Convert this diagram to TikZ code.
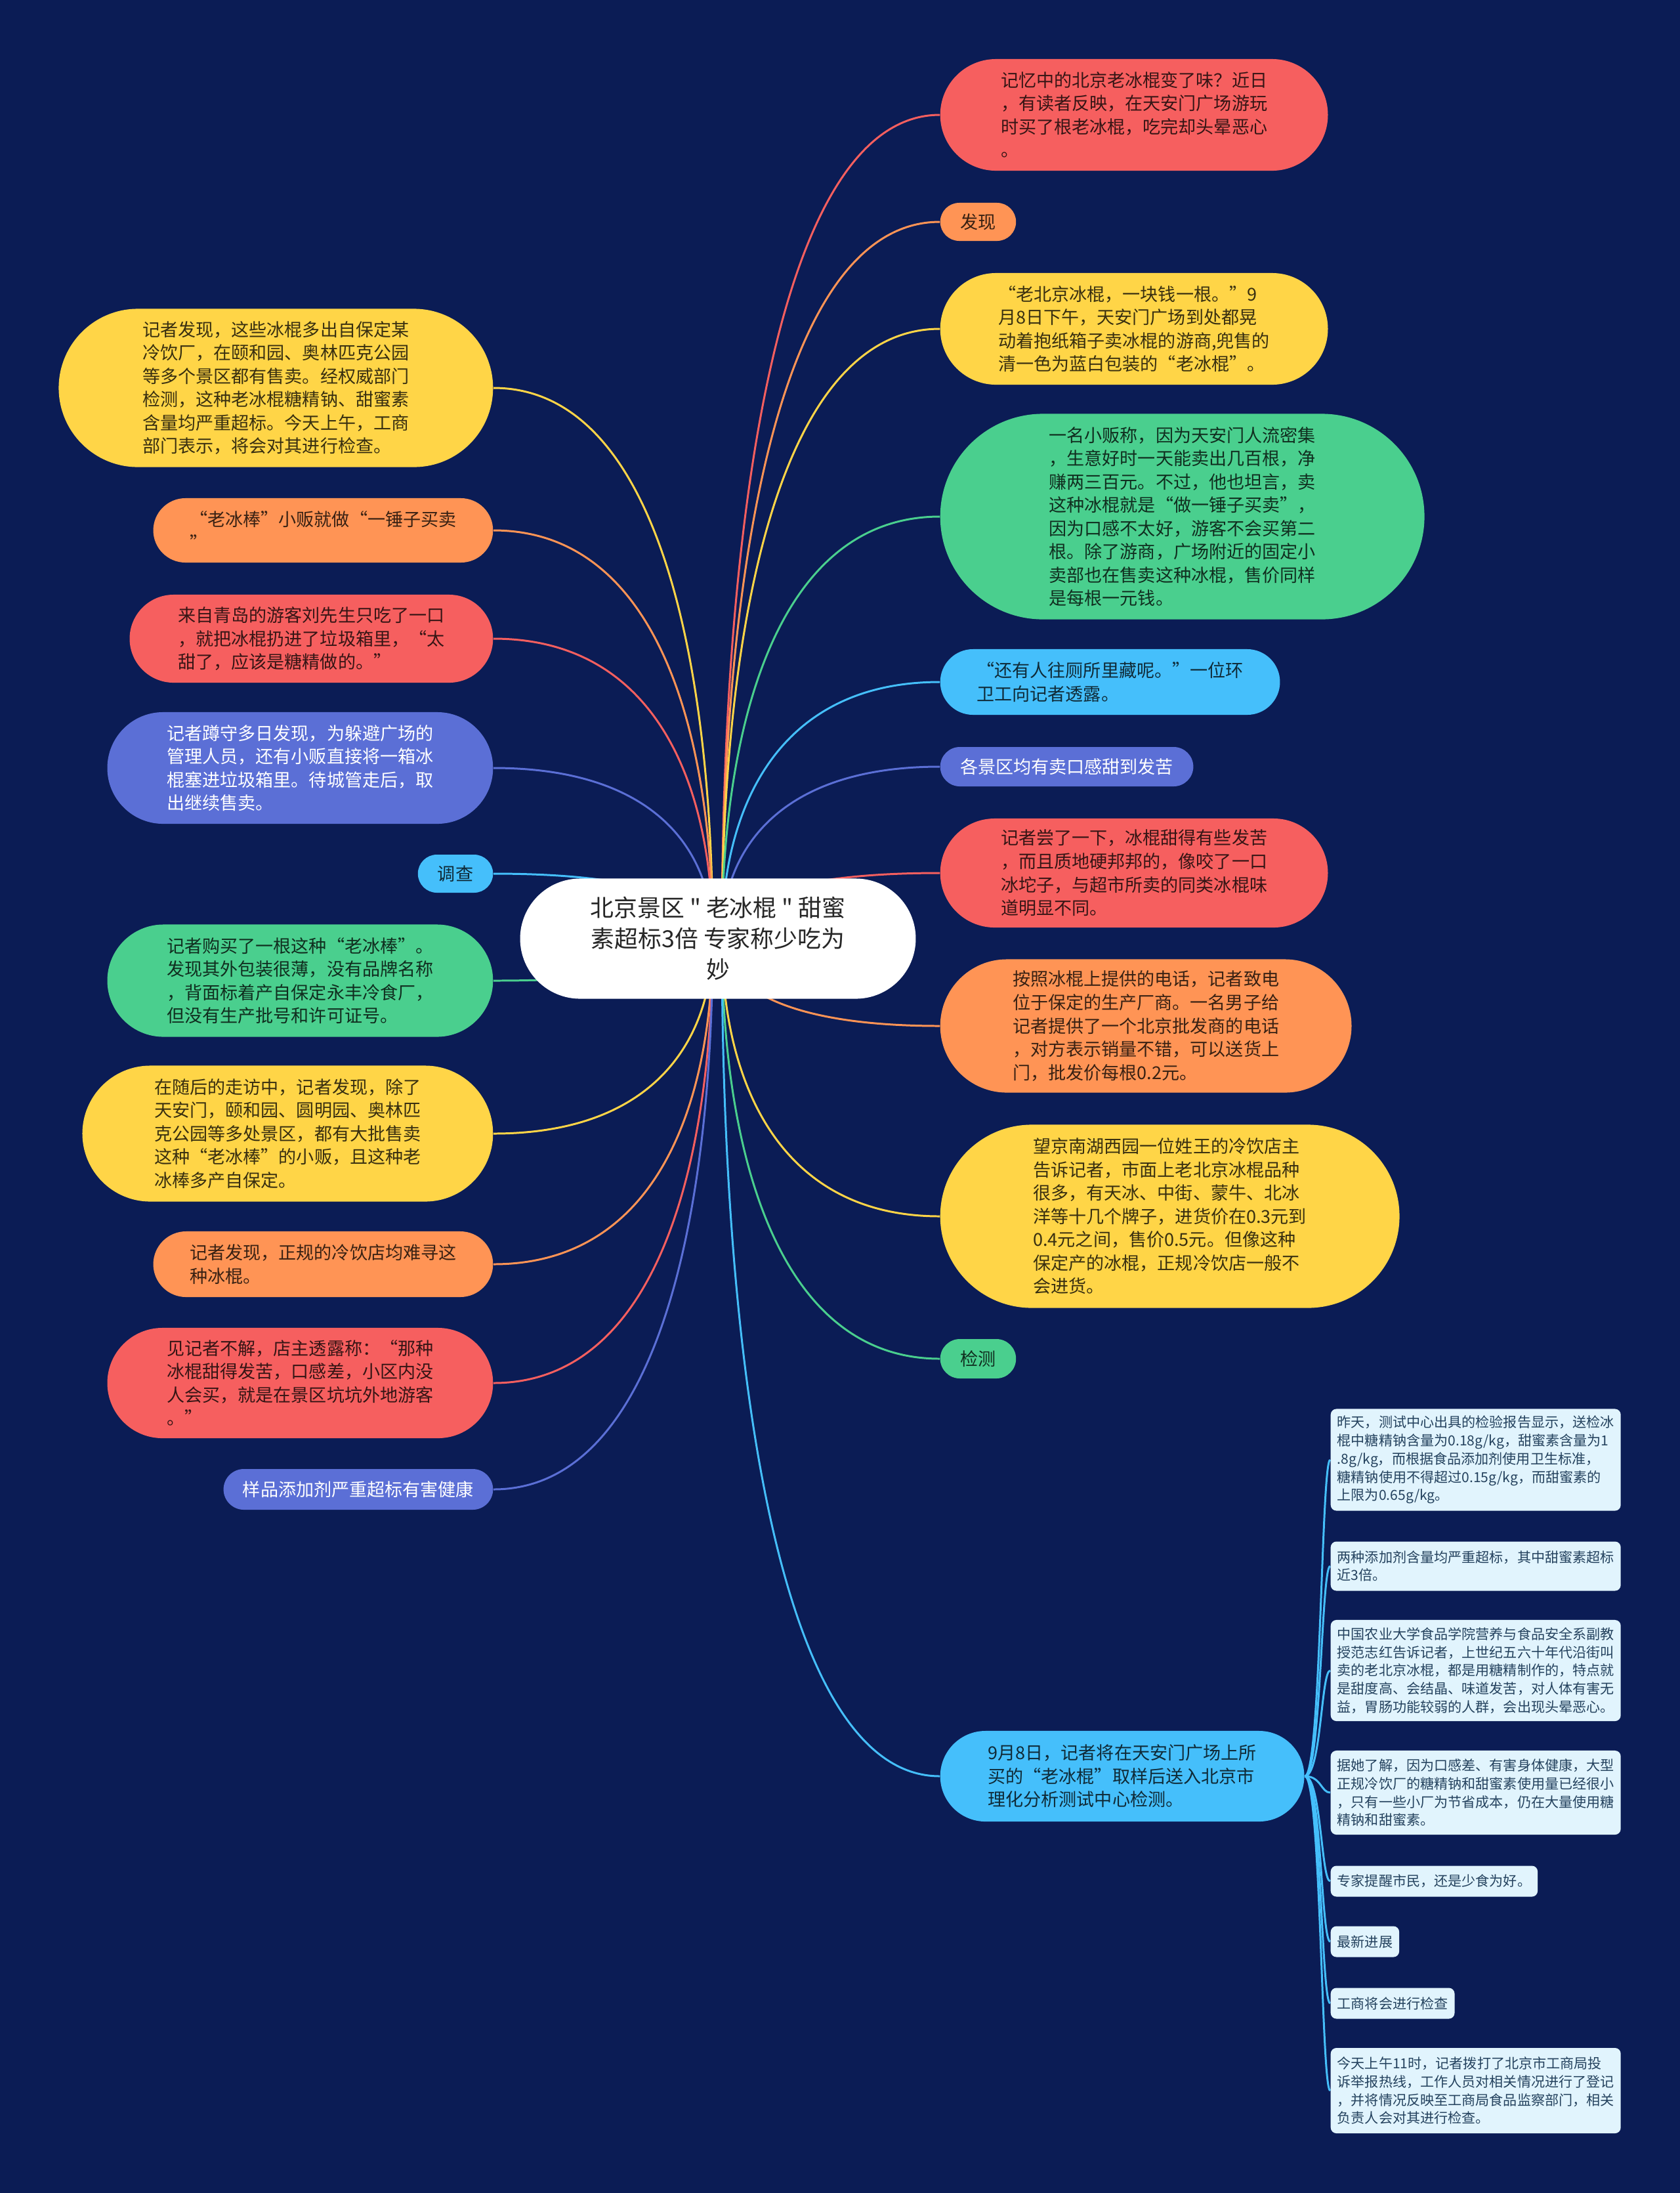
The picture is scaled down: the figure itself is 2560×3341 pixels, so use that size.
\documentclass[tikz,border=0pt]{standalone}
\usepackage{fontspec}
\newfontfamily\cjk{Noto Sans CJK SC}
\usetikzlibrary{shapes.misc, calc, backgrounds}

\definecolor{cbg}{HTML}{0B1C55}
\definecolor{cred}{HTML}{F65F5F}
\definecolor{corange}{HTML}{FF9455}
\definecolor{cyellow}{HTML}{FFD547}
\definecolor{cgreen}{HTML}{4ACF8E}
\definecolor{ccyan}{HTML}{45BFFB}
\definecolor{cblue}{HTML}{5B6FD6}
\definecolor{csub}{HTML}{E1F4FD}
\definecolor{csubtext}{HTML}{24425E}

\newcommand\bodyfont{\cjk\fontsize{7.7}{10.1}\selectfont}
\newcommand\leaffont{\cjk\fontsize{6}{7.9}\selectfont}
\newcommand\rootfont{\cjk\fontsize{10.2}{13.4}\selectfont}

\newcommand\spoke[3]{\draw[branchline, #1] (#2) .. controls ($(#2)!0.5!(#2|-#3)$) and ($(#2|-#3)!0.25!(#3)$) .. (#3);}
\newcommand\twig[1]{\draw[branchline, ccyan] (r11.east) .. controls (trunk|-r11.east) and (trunk|-#1) .. (#1);}

\begin{document}
\begin{tikzpicture}[x=0.01cm, y=-0.01cm,
  every node/.style={align=left},
  dims/.style 2 args={minimum width=#1cm+0.1cm, minimum height=#2cm},
  pill/.style={rounded rectangle, inner xsep=1.5pt, inner ysep=0pt, font=\bodyfont},
  redpill/.style={pill, fill=cred, text=cred!22!black},
  orangepill/.style={pill, fill=corange, text=corange!22!black},
  yellowpill/.style={pill, fill=cyellow, text=cyellow!22!black},
  greenpill/.style={pill, fill=cgreen, text=cgreen!22!black},
  cyanpill/.style={pill, fill=ccyan, text=ccyan!22!black},
  bluepill/.style={pill, fill=cblue, text=white},
  leaf/.style={rectangle, rounded corners=2.5pt, fill=csub, text=csubtext, font=\leaffont, inner xsep=0.1cm, inner ysep=0pt, anchor=west},
  branchline/.style={line width=0.85pt}]
\useasboundingbox (0,0) rectangle (2560,3341);

\node[rounded rectangle, fill=white, text=black!85, font=\rootfont, align=center, dims={6.16}{1.83}] (root) at (1094,1430)
  {北京景区 " 老冰棍 " 甜蜜\\素超标3倍 专家称少吃为\\妙};
\coordinate (hubr) at ([xshift=0.06cm]root.center);
\coordinate (hubl) at ([xshift=-0.08cm]root.center);

\node[redpill, anchor=west, dims={5.91}{1.70}] (r1) at (1432,175)
  {记忆中的北京老冰棍变了味？近日\\，有读者反映，在天安门广场游玩\\时买了根老冰棍，吃完却头晕恶心\\。};
\node[orangepill, anchor=west, dims={1.16}{0.58}] (r2) at (1432,338) {发现};
\node[yellowpill, anchor=west, dims={5.91}{1.70}] (r3) at (1432,501)
  {“老北京冰棍，一块钱一根。”9\\月8日下午，天安门广场到处都晃\\动着抱纸箱子卖冰棍的游商,兜售的\\清一色为蓝白包装的“老冰棍”。};
\node[greenpill, anchor=west, dims={7.38}{3.13}] (r4) at (1432,787)
  {一名小贩称，因为天安门人流密集\\，生意好时一天能卖出几百根，净\\赚两三百元。不过，他也坦言，卖\\这种冰棍就是“做一锤子买卖”，\\因为口感不太好，游客不会买第二\\根。除了游商，广场附近的固定小\\卖部也在售卖这种冰棍，售价同样\\是每根一元钱。};
\node[cyanpill, anchor=west, dims={5.18}{1.00}] (r5) at (1432,1039)
  {“还有人往厕所里藏呢。”一位环\\卫工向记者透露。};
\node[bluepill, anchor=west, dims={3.86}{0.60}] (r6) at (1432,1168) {各景区均有卖口感甜到发苦};
\node[redpill, anchor=west, dims={5.91}{1.66}] (r7) at (1432,1330)
  {记者尝了一下，冰棍甜得有些发苦\\，而且质地硬邦邦的，像咬了一口\\冰坨子，与超市所卖的同类冰棍味\\道明显不同。};
\node[orangepill, anchor=west, dims={6.27}{2.03}] (r8) at (1432,1563)
  {按照冰棍上提供的电话，记者致电\\位于保定的生产厂商。一名男子给\\记者提供了一个北京批发商的电话\\，对方表示销量不错，可以送货上\\门，批发价每根0.2元。};
\node[yellowpill, anchor=west, dims={7.00}{2.79}] (r9) at (1432,1853)
  {望京南湖西园一位姓王的冷饮店主\\告诉记者，市面上老北京冰棍品种\\很多，有天冰、中街、蒙牛、北冰\\洋等十几个牌子，进货价在0.3元到\\0.4元之间，售价0.5元。但像这种\\保定产的冰棍，正规冷饮店一般不\\会进货。};
\node[greenpill, anchor=west, dims={1.16}{0.60}] (r10) at (1432,2070) {检测};
\node[cyanpill, anchor=west, dims={5.55}{1.38}] (r11) at (1432,2706)
  {9月8日，记者将在天安门广场上所\\买的“老冰棍”取样后送入北京市\\理化分析测试中心检测。};
\coordinate (trunk) at ([xshift=0.25cm]r11.east);

\node[leaf, minimum height=1.55cm] (sa) at (2027,2224)
  {昨天，测试中心出具的检验报告显示，送检冰\\棍中糖精钠含量为0.18g/kg，甜蜜素含量为1\\.8g/kg，而根据食品添加剂使用卫生标准，\\糖精钠使用不得超过0.15g/kg，而甜蜜素的\\上限为0.65g/kg。};
\node[leaf, minimum height=0.75cm] (sb) at (2027,2386)
  {两种添加剂含量均严重超标，其中甜蜜素超标\\近3倍。};
\node[leaf, minimum height=1.54cm] (sc) at (2027,2545)
  {中国农业大学食品学院营养与食品安全系副教\\授范志红告诉记者，上世纪五六十年代沿街叫\\卖的老北京冰棍，都是用糖精制作的，特点就\\是甜度高、会结晶、味道发苦，对人体有害无\\益，胃肠功能较弱的人群，会出现头晕恶心。};
\node[leaf, minimum height=1.28cm] (sd) at (2027,2731)
  {据她了解，因为口感差、有害身体健康，大型\\正规冷饮厂的糖精钠和甜蜜素使用量已经很小\\，只有一些小厂为节省成本，仍在大量使用糖\\精钠和甜蜜素。};
\node[leaf, minimum height=0.47cm] (se) at (2027,2866) {专家提醒市民，还是少食为好。};
\node[leaf, minimum height=0.47cm] (sf) at (2027,2958) {最新进展};
\node[leaf, minimum height=0.47cm] (sg) at (2027,3052) {工商将会进行检查};
\node[leaf, minimum height=1.30cm] (sh) at (2027,3185)
  {今天上午11时，记者拨打了北京市工商局投\\诉举报热线，工作人员对相关情况进行了登记\\，并将情况反映至工商局食品监察部门，相关\\负责人会对其进行检查。};

\node[yellowpill, anchor=east, dims={6.62}{2.41}] (l1) at (752,591)
  {记者发现，这些冰棍多出自保定某\\冷饮厂，在颐和园、奥林匹克公园\\等多个景区都有售卖。经权威部门\\检测，这种老冰棍糖精钠、甜蜜素\\含量均严重超标。今天上午，工商\\部门表示，将会对其进行检查。};
\node[orangepill, anchor=east, dims={5.18}{0.98}] (l2) at (752,808)
  {“老冰棒”小贩就做“一锤子买卖\\”};
\node[redpill, anchor=east, dims={5.54}{1.34}] (l3) at (752,973)
  {来自青岛的游客刘先生只吃了一口\\，就把冰棍扔进了垃圾箱里，“太\\甜了，应该是糖精做的。”};
\node[bluepill, anchor=east, dims={5.88}{1.70}] (l4) at (752,1170)
  {记者蹲守多日发现，为躲避广场的\\管理人员，还有小贩直接将一箱冰\\棍塞进垃圾箱里。待城管走后，取\\出继续售卖。};
\node[cyanpill, anchor=east, dims={1.15}{0.58}] (l5) at (752,1331) {调查};
\node[greenpill, anchor=east, dims={5.88}{1.71}] (l6) at (752,1494)
  {记者购买了一根这种“老冰棒”。\\发现其外包装很薄，没有品牌名称\\，背面标着产自保定永丰冷食厂，\\但没有生产批号和许可证号。};
\node[yellowpill, anchor=east, dims={6.26}{2.07}] (l7) at (752,1727)
  {在随后的走访中，记者发现，除了\\天安门，颐和园、圆明园、奥林匹\\克公园等多处景区，都有大批售卖\\这种“老冰棒”的小贩，且这种老\\冰棒多产自保定。};
\node[orangepill, anchor=east, dims={5.18}{1.00}] (l8) at (752,1926)
  {记者发现，正规的冷饮店均难寻这\\种冰棍。};
\node[redpill, anchor=east, dims={5.88}{1.68}] (l9) at (752,2107)
  {见记者不解，店主透露称：“那种\\冰棍甜得发苦，口感差，小区内没\\人会买，就是在景区坑坑外地游客\\。”};
\node[bluepill, anchor=east, dims={4.11}{0.62}] (l10) at (752,2269) {样品添加剂严重超标有害健康};

\begin{scope}[on background layer]
\fill[cbg] (0,0) rectangle (2560,3341);
\spoke{cred}{hubr}{r1.west}
\spoke{corange}{hubr}{r2.west}
\spoke{cyellow}{hubr}{r3.west}
\spoke{cgreen}{hubr}{r4.west}
\spoke{ccyan}{hubr}{r5.west}
\spoke{cblue}{hubr}{r6.west}
\spoke{cred}{hubr}{r7.west}
\spoke{corange}{hubr}{r8.west}
\spoke{cyellow}{hubr}{r9.west}
\spoke{cgreen}{hubr}{r10.west}
\spoke{ccyan}{hubr}{r11.west}
\spoke{cyellow}{hubl}{l1.east}
\spoke{corange}{hubl}{l2.east}
\spoke{cred}{hubl}{l3.east}
\spoke{cblue}{hubl}{l4.east}
\spoke{ccyan}{hubl}{l5.east}
\spoke{cgreen}{hubl}{l6.east}
\spoke{cyellow}{hubl}{l7.east}
\spoke{corange}{hubl}{l8.east}
\spoke{cred}{hubl}{l9.east}
\spoke{cblue}{hubl}{l10.east}
\twig{sa.west}
\twig{sb.west}
\twig{sc.west}
\twig{sd.west}
\twig{se.west}
\twig{sf.west}
\twig{sg.west}
\twig{sh.west}
\end{scope}
\end{tikzpicture}
\end{document}
